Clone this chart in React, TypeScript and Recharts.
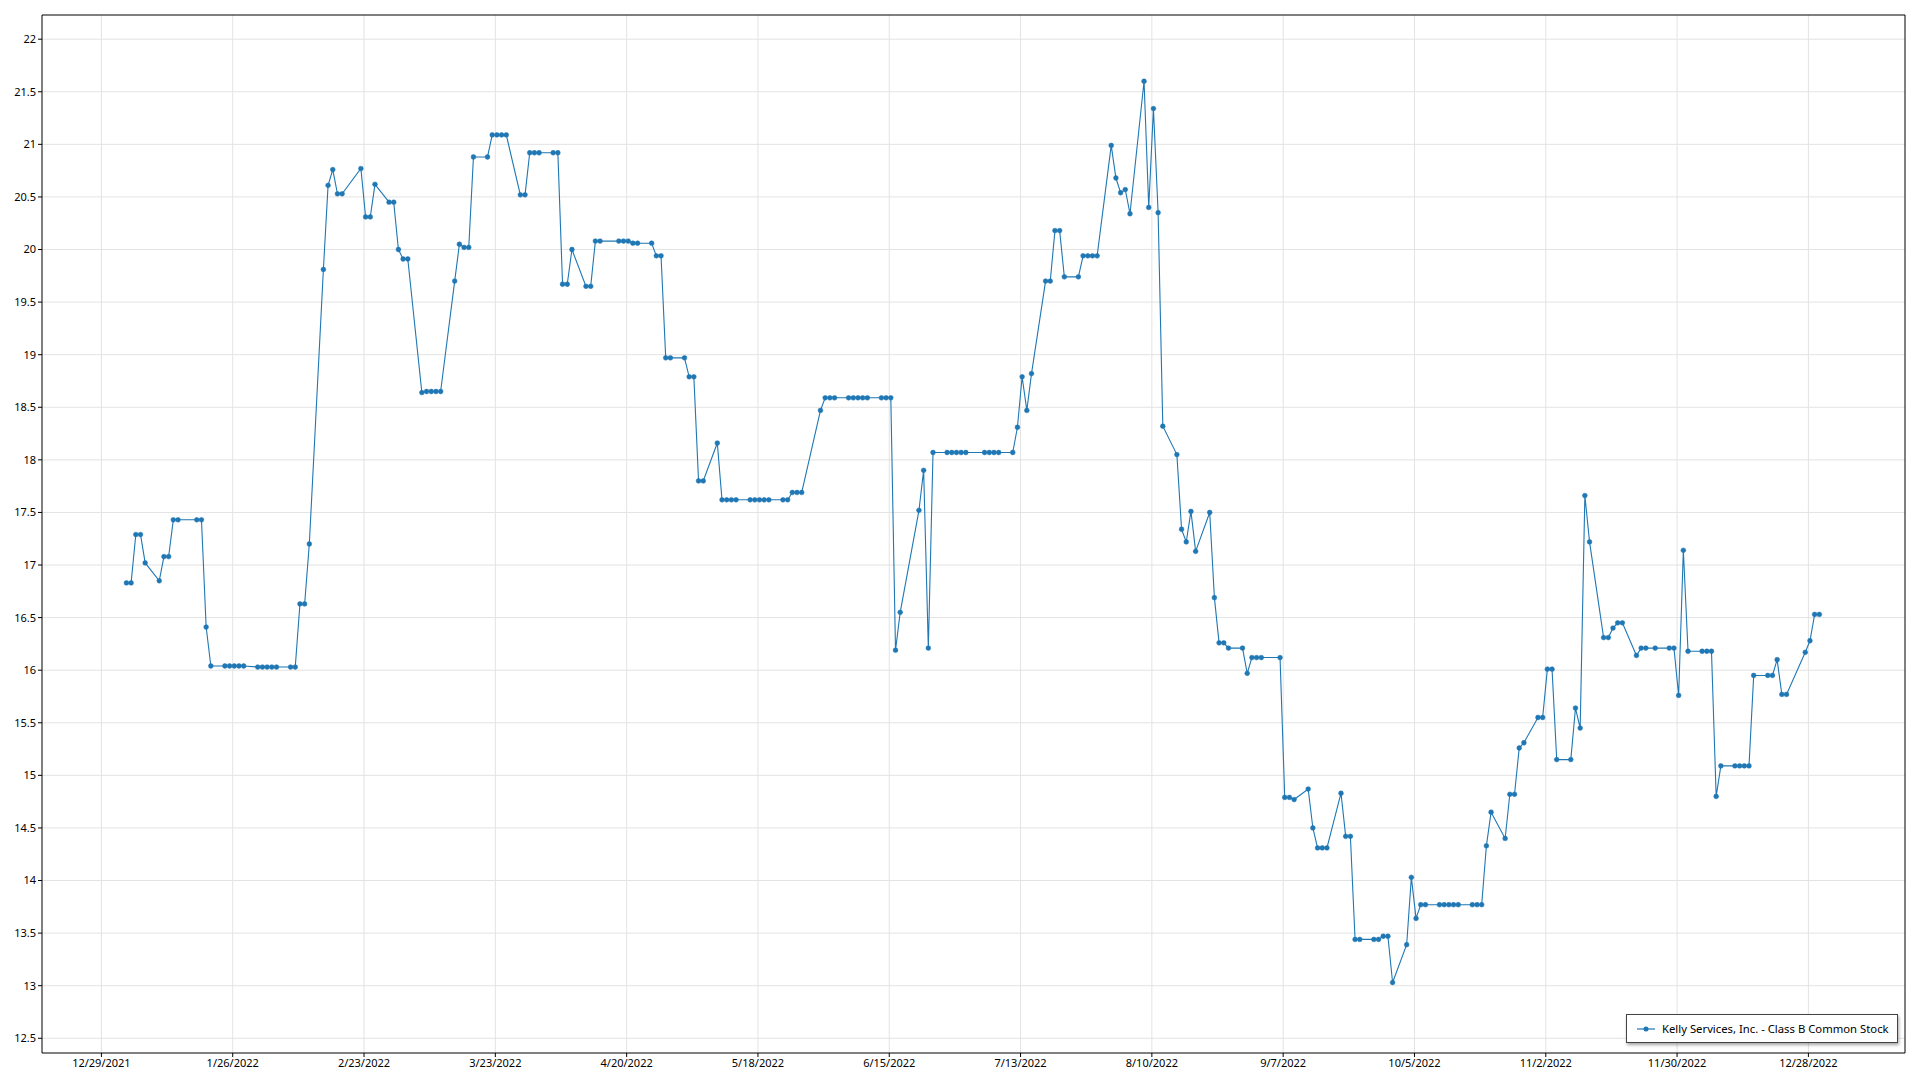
import React from 'react';
import { LineChart, Line, XAxis, YAxis, CartesianGrid, Legend, ReferenceLine } from 'recharts';

const SERIES_NAME = 'Kelly Services, Inc. - Class B Common Stock';

const dates: string[] = [
  '2022-01-03','2022-01-04','2022-01-05','2022-01-06','2022-01-07','2022-01-10','2022-01-11','2022-01-12','2022-01-13','2022-01-14',
  '2022-01-18','2022-01-19','2022-01-20','2022-01-21','2022-01-24','2022-01-25','2022-01-26','2022-01-27','2022-01-28','2022-01-31',
  '2022-02-01','2022-02-02','2022-02-03','2022-02-04','2022-02-07','2022-02-08','2022-02-09','2022-02-10','2022-02-11','2022-02-14',
  '2022-02-15','2022-02-16','2022-02-17','2022-02-18','2022-02-22','2022-02-23','2022-02-24','2022-02-25','2022-02-28','2022-03-01',
  '2022-03-02','2022-03-03','2022-03-04','2022-03-07','2022-03-08','2022-03-09','2022-03-10','2022-03-11','2022-03-14','2022-03-15',
  '2022-03-16','2022-03-17','2022-03-18','2022-03-21','2022-03-22','2022-03-23','2022-03-24','2022-03-25','2022-03-28','2022-03-29',
  '2022-03-30','2022-03-31','2022-04-01','2022-04-04','2022-04-05','2022-04-06','2022-04-07','2022-04-08','2022-04-11','2022-04-12',
  '2022-04-13','2022-04-14','2022-04-18','2022-04-19','2022-04-20','2022-04-21','2022-04-22','2022-04-25','2022-04-26','2022-04-27',
  '2022-04-28','2022-04-29','2022-05-02','2022-05-03','2022-05-04','2022-05-05','2022-05-06','2022-05-09','2022-05-10','2022-05-11',
  '2022-05-12','2022-05-13','2022-05-16','2022-05-17','2022-05-18','2022-05-19','2022-05-20','2022-05-23','2022-05-24','2022-05-25',
  '2022-05-26','2022-05-27','2022-05-31','2022-06-01','2022-06-02','2022-06-03','2022-06-06','2022-06-07','2022-06-08','2022-06-09',
  '2022-06-10','2022-06-13','2022-06-14','2022-06-15','2022-06-16','2022-06-17','2022-06-21','2022-06-22','2022-06-23','2022-06-24',
  '2022-06-27','2022-06-28','2022-06-29','2022-06-30','2022-07-01','2022-07-05','2022-07-06','2022-07-07','2022-07-08','2022-07-11',
  '2022-07-12','2022-07-13','2022-07-14','2022-07-15','2022-07-18','2022-07-19','2022-07-20','2022-07-21','2022-07-22','2022-07-25',
  '2022-07-26','2022-07-27','2022-07-28','2022-07-29','2022-08-01','2022-08-02','2022-08-03','2022-08-04','2022-08-05','2022-08-08',
  '2022-08-09','2022-08-10','2022-08-11','2022-08-12','2022-08-15','2022-08-16','2022-08-17','2022-08-18','2022-08-19','2022-08-22',
  '2022-08-23','2022-08-24','2022-08-25','2022-08-26','2022-08-29','2022-08-30','2022-08-31','2022-09-01','2022-09-02','2022-09-06',
  '2022-09-07','2022-09-08','2022-09-09','2022-09-12','2022-09-13','2022-09-14','2022-09-15','2022-09-16','2022-09-19','2022-09-20',
  '2022-09-21','2022-09-22','2022-09-23','2022-09-26','2022-09-27','2022-09-28','2022-09-29','2022-09-30','2022-10-03','2022-10-04',
  '2022-10-05','2022-10-06','2022-10-07','2022-10-10','2022-10-11','2022-10-12','2022-10-13','2022-10-14','2022-10-17','2022-10-18',
  '2022-10-19','2022-10-20','2022-10-21','2022-10-24','2022-10-25','2022-10-26','2022-10-27','2022-10-28','2022-10-31','2022-11-01',
  '2022-11-02','2022-11-03','2022-11-04','2022-11-07','2022-11-08','2022-11-09','2022-11-10','2022-11-11','2022-11-14','2022-11-15',
  '2022-11-16','2022-11-17','2022-11-18','2022-11-21','2022-11-22','2022-11-23','2022-11-25','2022-11-28','2022-11-29','2022-11-30',
  '2022-12-01','2022-12-02','2022-12-05','2022-12-06','2022-12-07','2022-12-08','2022-12-09','2022-12-12','2022-12-13','2022-12-14',
  '2022-12-15','2022-12-16','2022-12-19','2022-12-20','2022-12-21','2022-12-22','2022-12-23','2022-12-27','2022-12-28','2022-12-29',
  '2022-12-30',
];

const closes: number[] = [
  16.83, 16.83, 17.29, 17.29, 17.02, 16.85, 17.08, 17.08, 17.43, 17.43,
  17.43, 17.43, 16.41, 16.04, 16.04, 16.04, 16.04, 16.04, 16.04, 16.03,
  16.03, 16.03, 16.03, 16.03, 16.03, 16.03, 16.63, 16.63, 17.20, 19.81,
  20.61, 20.76, 20.53, 20.53, 20.77, 20.31, 20.31, 20.62, 20.45, 20.45,
  20.00, 19.91, 19.91, 18.64, 18.65, 18.65, 18.65, 18.65, 19.70, 20.05,
  20.02, 20.02, 20.88, 20.88, 21.09, 21.09, 21.09, 21.09, 20.52, 20.52,
  20.92, 20.92, 20.92, 20.92, 20.92, 19.67, 19.67, 20.00, 19.65, 19.65,
  20.08, 20.08, 20.08, 20.08, 20.08, 20.06, 20.06, 20.06, 19.94, 19.94,
  18.97, 18.97, 18.97, 18.79, 18.79, 17.80, 17.80, 18.16, 17.62, 17.62,
  17.62, 17.62, 17.62, 17.62, 17.62, 17.62, 17.62, 17.62, 17.62, 17.69,
  17.69, 17.69, 18.47, 18.59, 18.59, 18.59, 18.59, 18.59, 18.59, 18.59,
  18.59, 18.59, 18.59, 18.59, 16.19, 16.55, 17.52, 17.90, 16.21, 18.07,
  18.07, 18.07, 18.07, 18.07, 18.07, 18.07, 18.07, 18.07, 18.07, 18.07,
  18.31, 18.79, 18.47, 18.82, 19.70, 19.70, 20.18, 20.18, 19.74, 19.74,
  19.94, 19.94, 19.94, 19.94, 20.99, 20.68, 20.54, 20.57, 20.34, 21.60,
  20.40, 21.34, 20.35, 18.32, 18.05, 17.34, 17.22, 17.51, 17.13, 17.50,
  16.69, 16.26, 16.26, 16.21, 16.21, 15.97, 16.12, 16.12, 16.12, 16.12,
  14.79, 14.79, 14.77, 14.87, 14.50, 14.31, 14.31, 14.31, 14.83, 14.42,
  14.42, 13.44, 13.44, 13.44, 13.44, 13.47, 13.47, 13.03, 13.39, 14.03,
  13.64, 13.77, 13.77, 13.77, 13.77, 13.77, 13.77, 13.77, 13.77, 13.77,
  13.77, 14.33, 14.65, 14.40, 14.82, 14.82, 15.26, 15.31, 15.55, 15.55,
  16.01, 16.01, 15.15, 15.15, 15.64, 15.45, 17.66, 17.22, 16.31, 16.31,
  16.40, 16.45, 16.45, 16.14, 16.21, 16.21, 16.21, 16.21, 16.21, 15.76,
  17.14, 16.18, 16.18, 16.18, 16.18, 14.80, 15.09, 15.09, 15.09, 15.09,
  15.09, 15.95, 15.95, 15.95, 16.10, 15.77, 15.77, 16.17, 16.28, 16.53,
  16.53,
];

const xTickLabels: string[] = [
  '12/29/2021', '1/26/2022', '2/23/2022', '3/23/2022', '4/20/2022', '5/18/2022', '6/15/2022',
  '7/13/2022', '8/10/2022', '9/7/2022', '10/5/2022', '11/2/2022', '11/30/2022', '12/28/2022',
];

const yTicks: number[] = [12.5, 13, 13.5, 14, 14.5, 15, 15.5, 16, 16.5, 17, 17.5, 18, 18.5, 19, 19.5, 20, 20.5, 21, 21.5, 22];

const DAY = 86400000;
const parseIso = (s: string) => {
  const [y, m, d] = s.split('-').map(Number);
  return Date.UTC(y, m - 1, d, 8);
};
const parseUs = (s: string) => {
  const [m, d, y] = s.split('/').map(Number);
  return Date.UTC(y, m - 1, d);
};
const fmtUs = (t: number) => {
  const dt = new Date(t);
  return `${dt.getUTCMonth() + 1}/${dt.getUTCDate()}/${dt.getUTCFullYear()}`;
};

const data = dates.map((d, i) => ({ t: parseIso(d), v: closes[i] }));
const xTicks = xTickLabels.map(parseUs);
const base = xTicks[0];
const xDomain: [number, number] = [base - 12.67 * DAY, base + 384.6 * DAY];
const yDomain: [number, number] = [12.36, 22.23];

const COLOR = '#1f77b4';
const FONT = '"Noto Sans", "Segoe UI", sans-serif';

const LegendBox = () => (
  <div
    style={{
      display: 'flex',
      alignItems: 'center',
      border: '1px solid #444',
      background: '#fff',
      boxShadow: '1px 2px 3px rgba(0,0,0,0.35)',
      padding: '6px 8px 6px 9px',
      fontFamily: FONT,
      fontSize: 11.3,
      color: '#000',
      whiteSpace: 'nowrap',
    }}
  >
    <svg width={20} height={10} style={{ marginRight: 6 }}>
      <line x1={1} y1={5} x2={19} y2={5} stroke={COLOR} strokeWidth={1.2} />
      <circle cx={10} cy={5} r={2.5} fill={COLOR} />
    </svg>
    <span>{SERIES_NAME}</span>
  </div>
);

export default function App() {
  return (
    <LineChart
      width={1904}
      height={1072}
      data={data}
      margin={{ top: 7, right: 7, bottom: 0, left: 0 }}
      style={{ fontFamily: FONT }}
    >
      <CartesianGrid stroke="#e3e3e3" strokeWidth={1} verticalValues={xTicks} horizontalValues={yTicks} />
      <XAxis
        dataKey="t"
        type="number"
        domain={xDomain}
        allowDataOverflow
        ticks={xTicks}
        interval={0}
        tickFormatter={fmtUs}
        height={27}
        axisLine={{ stroke: '#000', strokeWidth: 1 }}
        tickLine={{ stroke: '#000' }}
        tickSize={4}
        tick={{ fontSize: 11, fill: '#000', fontFamily: FONT }}
      />
      <YAxis
        type="number"
        domain={yDomain}
        allowDataOverflow
        ticks={yTicks}
        interval={0}
        width={34}
        axisLine={{ stroke: '#000', strokeWidth: 1 }}
        tickLine={{ stroke: '#000' }}
        tickSize={4}
        tick={{ fontSize: 11, fill: '#000', fontFamily: FONT }}
      />
      <ReferenceLine y={yDomain[1]} stroke="#000" strokeWidth={1} ifOverflow="extendDomain" />
      <ReferenceLine x={xDomain[1]} stroke="#000" strokeWidth={1} ifOverflow="extendDomain" />
      <Legend
        verticalAlign="middle"
        align="center"
        layout="horizontal"
        wrapperStyle={{ position: 'absolute', left: 1618, top: 1006, width: 'auto' }}
        content={() => <LegendBox />}
      />
      <Line
        type="linear"
        dataKey="v"
        name={SERIES_NAME}
        stroke={COLOR}
        strokeWidth={1.1}
        dot={{ r: 2.4, fill: COLOR, stroke: COLOR, strokeWidth: 0.5 }}
        activeDot={false}
        isAnimationActive={false}
      />
    </LineChart>
  );
}
